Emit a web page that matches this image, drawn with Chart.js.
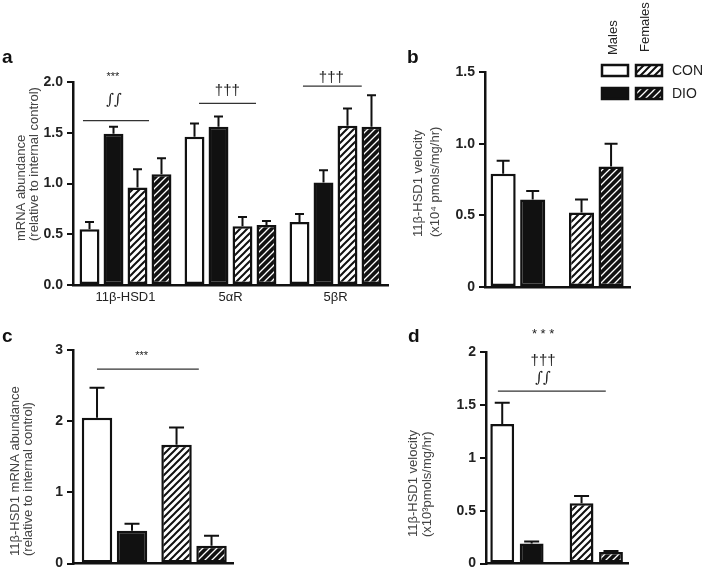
<!DOCTYPE html>
<html>
<head>
<meta charset="utf-8">
<script src="https://cdn.jsdelivr.net/npm/chart.js@4.4.1/dist/chart.umd.min.js"></script>
<style>
  body { margin: 0; background: #fff; }
  #wrap { position: relative; width: 705px; height: 576px; }
  canvas { position: absolute; }
</style>
</head>
<body>
<div id="wrap">
  <canvas id="cA" width="400" height="310" style="left:0;top:0"></canvas>
  <canvas id="cB" width="325" height="310" style="left:380px;top:0"></canvas>
  <canvas id="cC" width="380" height="266" style="left:0;top:310px"></canvas>
  <canvas id="cD" width="325" height="266" style="left:380px;top:310px"></canvas>
</div>
<script>
// ---- data ----
const genes = ['11β-HSD1', '5αR', '5βR'];
const sexes = ['Males', 'Females'];

// a: mRNA abundance (mean, SEM) per gene
const aConMale = [0.55, 1.46, 0.62];
const aDioMale = [1.49, 1.56, 1.01];
const aConFemale = [0.96, 0.58, 1.57];
const aDioFemale = [1.09, 0.59, 1.56];
const aConMaleErr = [0.07, 0.13, 0.08];
const aDioMaleErr = [0.07, 0.10, 0.12];
const aConFemaleErr = [0.18, 0.09, 0.17];
const aDioFemaleErr = [0.16, 0.04, 0.31];

// b: 11β-HSD1 velocity (x10^4) [males, females]
const bCon = [0.79, 0.52];
const bDio = [0.61, 0.84];
const bConErr = [0.09, 0.09];
const bDioErr = [0.06, 0.16];

// c: 11β-HSD1 mRNA abundance
const cCon = [2.05, 1.67];
const cDio = [0.46, 0.25];
const cConErr = [0.42, 0.24];
const cDioErr = [0.10, 0.14];

// d: 11β-HSD1 velocity (x10^3)
const dCon = [1.32, 0.57];
const dDio = [0.19, 0.11];
const dConErr = [0.20, 0.07];
const dDioErr = [0.02, 0.01];

// ---- styling ----
const FONT = '"Liberation Sans", Arial, sans-serif';
const INK = '#111';

function makeHatch(bg, fg, lw) {
    const c = document.createElement('canvas');
    c.width = c.height = 7;
    const x = c.getContext('2d');
    x.fillStyle = bg; x.fillRect(0, 0, 7, 7);
    x.strokeStyle = fg; x.lineWidth = lw;
    x.beginPath();
    x.moveTo(-1, 8); x.lineTo(8, -1);
    x.moveTo(-1, 1); x.lineTo(1, -1);
    x.moveTo(6, 8); x.lineTo(8, 6);
    x.stroke();
    return x.createPattern(c, 'repeat');
}
const hatchLight = makeHatch('#fff', INK, 2);
const hatchDark = makeHatch(INK, '#fff', 1.3);

function drawLegend(ctx) {
    ctx.save();
    ctx.fillStyle = '#222';
    ctx.font = '13px ' + FONT;
    ctx.textBaseline = 'middle';
    ctx.textAlign = 'left';
    [['Males', 233, 55], ['Females', 265, 52]].forEach(([t, x, y]) => {
        ctx.save(); ctx.translate(x, y); ctx.rotate(-Math.PI / 2);
        ctx.fillText(t, 0, 0); ctx.restore();
    });
    const box = (x, y, fill) => {
        ctx.fillStyle = fill; ctx.fillRect(x, y, 26, 11);
        ctx.strokeStyle = INK; ctx.lineWidth = 2.5; ctx.strokeRect(x, y, 26, 11);
    };
    box(222, 65, '#fff'); box(256, 65, hatchLight);
    box(222, 88, INK); box(256, 88, hatchDark);
    ctx.fillStyle = '#222';
    ctx.font = '14px ' + FONT;
    ctx.fillText('CON', 292, 71);
    ctx.fillText('DIO', 292, 94);
    ctx.restore();
}

const extras = {
    id: 'extras',
    afterDatasetsDraw(chart, args, o) {
        const ctx = chart.ctx, xs = chart.scales.x, ys = chart.scales.y;
        ctx.save();
        ctx.strokeStyle = INK;
        ctx.lineWidth = 2;
        chart.data.datasets.forEach((ds, i) => {
            const meta = chart.getDatasetMeta(i);
            meta.data.forEach((bar, j) => {
                const v = meta.controller.getParsed(j).y;
                const yErr = ys.getPixelForValue(v + ds.errors[j]);
                ctx.beginPath();
                ctx.moveTo(bar.x, bar.y); ctx.lineTo(bar.x, yErr);
                ctx.moveTo(bar.x - o.cap, yErr); ctx.lineTo(bar.x + o.cap, yErr);
                ctx.stroke();
            });
        });
        ctx.lineWidth = 1.3;
        ctx.strokeStyle = '#333';
        (o.lines || []).forEach(l => {
            const y = ys.getPixelForValue(l.y);
            ctx.beginPath();
            ctx.moveTo(xs.getPixelForValue(l.x0), y);
            ctx.lineTo(xs.getPixelForValue(l.x1), y);
            ctx.stroke();
        });
        ctx.fillStyle = '#222';
        ctx.textAlign = 'center';
        ctx.textBaseline = 'middle';
        (o.texts || []).forEach(t => {
            ctx.font = t.font;
            ctx.fillText(t.t, xs.getPixelForValue(t.x), ys.getPixelForValue(t.y));
        });
        // axis title, start-aligned rotated lines
        const tt = o.title;
        ctx.font = '13px ' + FONT;
        ctx.fillStyle = '#444';
        ctx.textAlign = 'left';
        tt.lines.forEach((line, k) => {
            ctx.save(); ctx.translate(tt.x[k], tt.y); ctx.rotate(-Math.PI / 2);
            ctx.fillText(line, 0, 0); ctx.restore();
        });
        // panel letter
        ctx.font = 'bold 19px ' + FONT;
        ctx.fillStyle = INK;
        ctx.textBaseline = 'alphabetic';
        ctx.fillText(o.letter.t, o.letter.x, o.letter.y);
        if (o.legend) drawLegend(ctx);
        ctx.restore();
    }
};

const yAxis = (max, step, fmt, w) => ({
    min: 0, max,
    ticks: { stepSize: step, callback: fmt, color: '#222', font: { family: FONT, size: 14, weight: 'bold' }, padding: 4 },
    grid: { drawOnChartArea: false, drawTicks: true, tickLength: 6, color: INK, lineWidth: 2 },
    border: { color: INK, width: 2.5 },
    afterFit: s => { s.width = w; }
});
const xLinear = (min, max, h) => ({
    type: 'linear', min, max, offset: false,
    afterBuildTicks: s => { s.ticks = [{ value: 0 }, { value: 1 }]; },
    ticks: { display: false },
    grid: { drawOnChartArea: false, drawTicks: false, offset: false },
    border: { color: INK, width: 2.5 },
    afterFit: s => { s.height = h; }
});
const pts = arr => arr.map((v, i) => ({ x: i, y: v }));
const barStyle = { borderColor: INK, borderWidth: 2.5, borderSkipped: false };

const sig = '11px ' + FONT;
const dag = '15px ' + FONT;
const integ = 'italic 15px "DejaVu Serif", serif';

// a
new Chart(document.getElementById('cA'), {
    type: 'bar',
    data: {
        labels: genes,
        datasets: [
            { data: aConMale, errors: aConMaleErr, backgroundColor: '#fff', ...barStyle },
            { data: aDioMale, errors: aDioMaleErr, backgroundColor: INK, ...barStyle },
            { data: aConFemale, errors: aConFemaleErr, backgroundColor: hatchLight, ...barStyle },
            { data: aDioFemale, errors: aDioFemaleErr, backgroundColor: hatchDark, ...barStyle }
        ]
    },
    options: {
        responsive: false, animation: false,
        datasets: { bar: { categoryPercentage: 0.914, barPercentage: 0.83 } },
        layout: { padding: { top: 82, right: 12, left: 0, bottom: 0 } },
        plugins: {
            legend: { display: false }, tooltip: { enabled: false },
            extras: {
                cap: 4.5,
                lines: [{ x0: -0.405, x1: 0.224, y: 1.62 }, { x0: 0.70, x1: 1.243, y: 1.79 }, { x0: 1.69, x1: 2.25, y: 1.96 }],
                texts: [
                    { t: '***', x: -0.12, y: 2.05, font: sig },
                    { t: '∫∫', x: -0.11, y: 1.82, font: integ },
                    { t: '†††', x: 0.97, y: 1.91, font: dag },
                    { t: '†††', x: 1.96, y: 2.04, font: dag }
                ],
                title: { lines: ['mRNA abundance', '(relative to internal control)'], x: [21, 34], y: 241 },
                letter: { t: 'a', x: 2, y: 63 }
            }
        },
        scales: {
            x: {
                ticks: { color: '#222', font: { family: FONT, size: 13 }, padding: 5 },
                grid: { drawOnChartArea: false, drawTicks: false },
                border: { color: INK, width: 2.5 },
                afterFit: s => { s.height = 25; }
            },
            y: yAxis(2, 0.5, v => v.toFixed(1), 73)
        }
    },
    plugins: [extras]
});

function smallPanel(id, con, conErr, dio, dioErr, x, yMax, yStep, yFmt, yW, pad, pct, cap, extra) {
    return new Chart(document.getElementById(id), {
        type: 'bar',
        data: {
            labels: sexes,
            datasets: [
                { data: pts(con), errors: conErr, backgroundColor: ['#fff', hatchLight], ...barStyle },
                { data: pts(dio), errors: dioErr, backgroundColor: [INK, hatchDark], ...barStyle }
            ]
        },
        options: {
            responsive: false, animation: false,
            datasets: { bar: { categoryPercentage: pct[0], barPercentage: pct[1] } },
            layout: { padding: pad },
            plugins: { legend: { display: false }, tooltip: { enabled: false }, extras: { cap, ...extra } },
            scales: { x, y: yAxis(yMax, yStep, yFmt, yW) }
        },
        plugins: [extras]
    });
}

// b
smallPanel('cB', bCon, bConErr, bDio, bDioErr, xLinear(-0.42, 1.43, 23), 1.5, 0.5,
    v => v === 0 ? '0' : v.toFixed(1), 105, { top: 72, right: 75, left: 0, bottom: 0 }, [0.754, 0.85], 6.5,
    {
        lines: [], texts: [],
        title: { lines: ['11β-HSD1 velocity', '(x10⁴ pmols/mg/hr)'], x: [38.5, 55], y: 237 },
        letter: { t: 'b', x: 27, y: 63 },
        legend: true
    });

// c
smallPanel('cC', cCon, cConErr, cDio, cDioErr, xLinear(-0.522, 1.49, 7), 3, 1,
    v => String(v), 73, { top: 40, right: 147, left: 0, bottom: 0 }, [0.88, 0.87], 7.5,
    {
        lines: [{ x0: -0.22, x1: 1.06, y: 2.73 }],
        texts: [{ t: '***', x: 0.34, y: 2.91, font: sig }],
        title: { lines: ['11β-HSD1 mRNA abundance', '(relative to internal control)'], x: [15, 28.5], y: 246 },
        letter: { t: 'c', x: 2, y: 32 }
    });

// d
smallPanel('cD', dCon, dConErr, dDio, dDioErr, xLinear(-0.39, 1.40, 7), 2, 0.5,
    v => String(v), 106, { top: 42, right: 77, left: 0, bottom: 0 }, [0.742, 0.81], 7.5,
    {
        lines: [{ x0: -0.24, x1: 1.12, y: 1.63 }],
        texts: [
            { t: '* * *', x: 0.33, y: 2.17, font: '13px ' + FONT },
            { t: '†††', x: 0.33, y: 1.92, font: dag },
            { t: '∫∫', x: 0.33, y: 1.75, font: integ }
        ],
        title: { lines: ['11β-HSD1 velocity', '(x10³pmols/mg/hr)'], x: [33, 47], y: 227 },
        letter: { t: 'd', x: 28, y: 32 }
    });
</script>
</body>
</html>
